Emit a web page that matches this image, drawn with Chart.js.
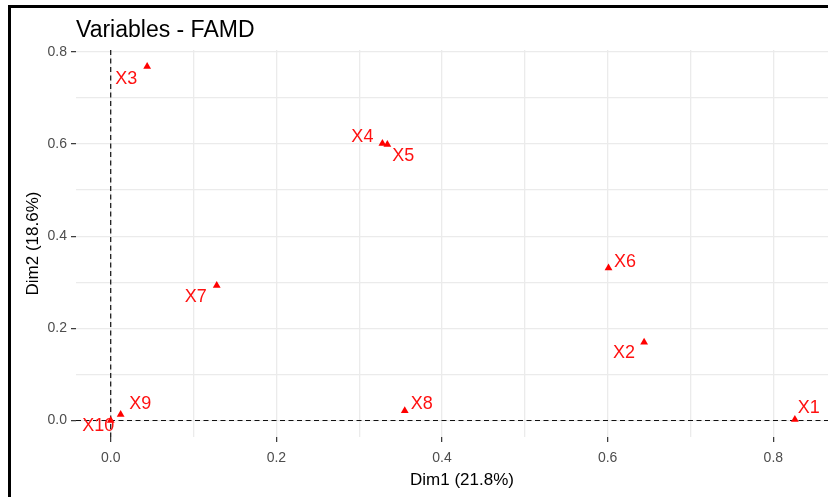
<!DOCTYPE html>
<html>
<head>
<meta charset="utf-8">
<script src="https://cdn.jsdelivr.net/npm/chart.js@4/dist/chart.umd.min.js"></script>
<style>
  body { margin: 0; background: #fff; }
  #wrap { width: 828px; height: 497px; }
</style>
</head>
<body>
<div id="wrap"><canvas id="famd" width="828" height="497"></canvas></div>
<script>
// values
var chartTitle = 'Variables - FAMD';
var xTitle = 'Dim1 (21.8%)';
var yTitle = 'Dim2 (18.6%)';
var varNames = ['X1', 'X2', 'X3', 'X4', 'X5', 'X6', 'X7', 'X8', 'X9', 'X10'];
var dim1 = [0.826, 0.644, 0.044, 0.328, 0.334, 0.601, 0.128, 0.355, 0.012, 0.000];
var dim2 = [0.002, 0.170, 0.768, 0.601, 0.599, 0.331, 0.293, 0.021, 0.013, 0.000];
var xTickValues = [0, 0.1, 0.2, 0.3, 0.4, 0.5, 0.6, 0.7, 0.8];
var yTickValues = [0, 0.1, 0.2, 0.3, 0.4, 0.5, 0.6, 0.7, 0.8];

// repelled label offsets (px), like ggrepel placed them
var labelOffsets = [[14, -12], [-20, 11], [-21, 12], [-20, -6.5], [16, 12], [16.5, -6], [-21, 12], [17, -7], [19.5, -10.5], [-12.5, 6]];

var FONT = '"Liberation Sans", Arial, sans-serif';

function isMajor(v) {
  return Math.round(v * 10) % 2 === 0;
}

(function() {
  var points = dim1.map(function(x, i) { return {x: x, y: dim2[i]}; });

  var famdPlugin = {
    id: 'famdExtras',
    beforeDatasetsDraw: function(chart) {
      var ctx = chart.ctx, area = chart.chartArea;
      var x0 = chart.scales.x.getPixelForValue(0);
      var y0 = chart.scales.y.getPixelForValue(0);
      ctx.save();
      ctx.strokeStyle = '#111';
      ctx.lineWidth = 1.2;
      ctx.setLineDash([5, 3.5]);
      ctx.beginPath();
      ctx.moveTo(x0, area.top);
      ctx.lineTo(x0, area.bottom);
      ctx.moveTo(area.left, y0);
      ctx.lineTo(area.right, y0);
      ctx.stroke();
      ctx.restore();
    },
    afterDatasetsDraw: function(chart) {
      var ctx = chart.ctx;
      var meta = chart.getDatasetMeta(0);
      ctx.save();
      ctx.fillStyle = '#FF1111';
      ctx.font = '18px ' + FONT;
      ctx.textAlign = 'center';
      ctx.textBaseline = 'middle';
      meta.data.forEach(function(pt, i) {
        ctx.fillText(varNames[i], pt.x + labelOffsets[i][0], pt.y + labelOffsets[i][1]);
      });
      ctx.restore();
    },
    afterDraw: function(chart) {
      var ctx = chart.ctx, area = chart.chartArea;
      ctx.save();
      // title
      ctx.fillStyle = '#000';
      ctx.font = '23px ' + FONT;
      ctx.textAlign = 'left';
      ctx.textBaseline = 'alphabetic';
      ctx.fillText(chartTitle, 76, 37);
      // axis titles
      ctx.font = '17px ' + FONT;
      ctx.textAlign = 'center';
      ctx.textBaseline = 'middle';
      ctx.fillText(xTitle, 462, 480);
      ctx.translate(33, (area.top + area.bottom) / 2);
      ctx.rotate(-Math.PI / 2);
      ctx.fillText(yTitle, 0, 0);
      ctx.restore();
      // screenshot frame
      ctx.save();
      ctx.fillStyle = '#000';
      ctx.fillRect(8, 5, 820, 3);
      ctx.fillRect(8, 5, 3, 492);
      ctx.restore();
    }
  };

  var gridOpts = {
    color: '#EBEBEB',
    lineWidth: 1.3,
    drawTicks: true,
    tickLength: 5,
    tickWidth: 1.2,
    tickColor: function(c) { return c.tick && isMajor(c.tick.value) ? '#333' : 'rgba(0,0,0,0)'; }
  };

  new Chart(document.getElementById('famd'), {
    type: 'scatter',
    data: {
      datasets: [{
        data: points,
        pointStyle: 'triangle',
        pointRadius: 4.5,
        pointHoverRadius: 4.5,
        backgroundColor: '#FF0000',
        borderWidth: 0,
        clip: false
      }]
    },
    options: {
      responsive: false,
      animation: false,
      layout: { autoPadding: false, padding: { left: 0, top: 50, right: 0, bottom: 0 } },
      plugins: { legend: { display: false }, tooltip: { enabled: false } },
      scales: {
        x: {
          type: 'linear',
          min: -0.0419,
          max: 0.866,
          border: { display: false },
          grid: gridOpts,
          afterBuildTicks: function(scale) {
            scale.ticks = xTickValues.map(function(v) { return {value: v}; });
          },
          afterFit: function(scale) {
            scale.height = 60;
            scale.paddingLeft = 0;
            scale.paddingRight = 0;
          },
          ticks: {
            autoSkip: false,
            maxRotation: 0,
            padding: 8,
            color: '#4D4D4D',
            font: { family: FONT, size: 14 },
            callback: function(v) { return isMajor(v) ? v.toFixed(1) : ''; }
          }
        },
        y: {
          type: 'linear',
          min: -0.0358,
          max: 0.804,
          border: { display: false },
          grid: gridOpts,
          afterBuildTicks: function(scale) {
            scale.ticks = yTickValues.map(function(v) { return {value: v}; });
          },
          afterFit: function(scale) {
            scale.width = 76;
            scale.paddingTop = 0;
            scale.paddingBottom = 0;
          },
          ticks: {
            autoSkip: false,
            padding: 4,
            color: '#4D4D4D',
            font: { family: FONT, size: 14 },
            callback: function(v) { return isMajor(v) ? v.toFixed(1) : ''; }
          }
        }
      }
    },
    plugins: [famdPlugin]
  });
}());
</script>
</body>
</html>
